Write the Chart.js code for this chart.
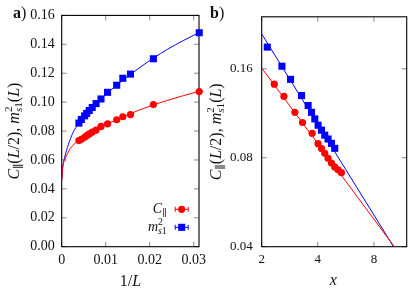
<!DOCTYPE html>
<html>
<head>
<meta charset="utf-8">
<script src="https://cdn.jsdelivr.net/npm/chart.js@4"></script>
<style>
  html, body { margin: 0; padding: 0; background: #fff; }
  #wrap { position: relative; width: 415px; height: 291px; }
  canvas { position: absolute; left: 0; top: 0; }
</style>
</head>
<body>
<div id="wrap">
  <canvas id="panelA" width="415" height="291"></canvas>
  <canvas id="panelB" width="415" height="291"></canvas>
</div>
<script>
// ---- panel a) : values against 1/L ----
const invL   = [0.03125, 0.02083, 0.01563, 0.01389, 0.0125, 0.01042, 0.00893, 0.00781, 0.00694, 0.00625, 0.00568, 0.00521, 0.00446, 0.00391];
const cParA  = [0.1073, 0.0983, 0.0914, 0.0899, 0.0878, 0.0850, 0.0832, 0.0807, 0.0793, 0.0780, 0.0768, 0.0757, 0.0743, 0.0734];
const ms1A   = [0.1480, 0.1300, 0.1194, 0.1165, 0.1117, 0.1068, 0.1022, 0.0990, 0.0963, 0.0942, 0.0922, 0.0905, 0.0880, 0.0855];
// fit curves
const fitXA    = [0.00005, 0.0002, 0.0007, 0.0015, 0.0025, 0.0039, 0.006, 0.009, 0.013, 0.018, 0.024, 0.0312];
const fitCParA = [0.047, 0.054, 0.060, 0.0655, 0.0700, 0.0734, 0.0780, 0.0830, 0.0885, 0.0950, 0.1012, 0.1075];
const fitMs1A  = [0.047, 0.054, 0.062, 0.0705, 0.0785, 0.0855, 0.0935, 0.1025, 0.1130, 0.1245, 0.1365, 0.1482];
const xTicksA  = [0, 0.01, 0.02, 0.03];
const xLabelsA = ['0', '0.01', '0.02', '0.03'];
const yTicksA  = [0, 0.02, 0.04, 0.06, 0.08, 0.10, 0.12, 0.14, 0.16];
const yLabelsA = ['0.00', '0.02', '0.04', '0.06', '0.08', '0.10', '0.12', '0.14', '0.16'];

// ---- panel b) : log-log against x ----
const xRedB  = [2.336, 2.632, 3.013, 3.313, 3.729, 4.01, 4.187, 4.359, 4.541, 4.735, 4.931, 5.136, 5.356];
const cParB  = [0.1420, 0.1290, 0.1140, 0.1053, 0.0968, 0.0893, 0.0860, 0.0828, 0.0797, 0.0768, 0.0745, 0.0728, 0.0712];
const xBlueB = [2.143, 2.568, 2.858, 3.273, 3.55, 3.70, 3.855, 4.015, 4.186, 4.36, 4.541, 4.735, 4.931];
const ms1B   = [0.1895, 0.1633, 0.1474, 0.1299, 0.1202, 0.1140, 0.1083, 0.1031, 0.0992, 0.0954, 0.0926, 0.0895, 0.0861];
const lineXRedB  = [2, 10.3];
const lineCParB  = [0.161, 0.04];
const lineXBlueB = [2, 10.2];
const lineMs1B   = [0.21, 0.04];
const xTicksB  = [2, 4, 8];
const xLabelsB = ['2', '4', '8'];
const yTicksB  = [0.04, 0.08, 0.16];
const yLabelsB = ['0.04', '0.08', '0.16'];

const RED = '#ff0000';
const BLUE = '#0000ff';
const SERIF = '"Liberation Serif", "DejaVu Serif", serif';

const pts = (xs, ys) => xs.map((x, i) => ({ x, y: ys[i] }));

// text runs (math-ish labels)
const yTitleRuns = [
  { t: 'C', it: 1 }, { t: '\u2225', sub: 1 }, { t: '(' }, { t: 'L', it: 1 }, { t: '/2), ' },
  { t: 'm', it: 1 }, { t: '2', sup: 1, keep: 1 }, { t: 's', it: 1, sub: 1 }, { t: '1', sub: 1 },
  { t: '(' }, { t: 'L', it: 1 }, { t: ')' }
];
const legCRuns = [{ t: 'C', it: 1 }, { t: '\u2225', sub: 1 }];
const legMRuns = [{ t: 'm', it: 1 }, { t: '2', sup: 1, keep: 1 }, { t: 's', it: 1, sub: 1 }, { t: '1', sub: 1 }];

function fontOf(r, size) {
    const s = (r.sub || r.sup) ? size * 0.7 : size;
    return (r.it ? 'italic ' : '') + (r.bold ? 'bold ' : '') + s + 'px ' + SERIF;
}
function runsWidth(ctx, runs, size) {
    let w = 0;
    runs.forEach(r => { ctx.font = fontOf(r, size); if (!r.keep) w += ctx.measureText(r.t).width; });
    return w;
}
function drawRuns(ctx, runs, size, x, y) {
    runs.forEach(r => {
        ctx.font = fontOf(r, size);
        const dy = r.sub ? size * 0.22 : r.sup ? -size * 0.42 : 0;
        ctx.fillText(r.t, x, y + dy);
        if (!r.keep) x += ctx.measureText(r.t).width;
    });
}

// frame with inward ticks on all four sides (gnuplot look)
const frame = {
    id: 'frame',
    beforeDatasetsDraw(chart) {
        const ctx = chart.ctx, a = chart.chartArea, sx = chart.scales.x, sy = chart.scales.y;
        ctx.save();
        ctx.strokeStyle = '#8a8a8a';
        ctx.lineWidth = 1;
        ctx.beginPath();
        sx.ticks.forEach(t => {
            const p = sx.getPixelForValue(t.value);
            ctx.moveTo(p, a.bottom); ctx.lineTo(p, a.bottom - 5);
            ctx.moveTo(p, a.top); ctx.lineTo(p, a.top + 5);
        });
        sy.ticks.forEach(t => {
            const p = sy.getPixelForValue(t.value);
            ctx.moveTo(a.left, p); ctx.lineTo(a.left + 5, p);
            ctx.moveTo(a.right, p); ctx.lineTo(a.right - 5, p);
        });
        ctx.stroke();
        ctx.strokeStyle = '#000';
        ctx.lineWidth = 1.1;
        ctx.strokeRect(a.left, a.top, a.right - a.left, a.bottom - a.top);
        ctx.restore();
    }
};

const decor = {
    id: 'decor',
    afterDraw(chart, args, o) {
        const ctx = chart.ctx, a = chart.chartArea;
        ctx.save();
        ctx.fillStyle = '#111';
        ctx.textBaseline = 'alphabetic';
        // panel letter
        ctx.font = 'bold 16px ' + SERIF;
        ctx.fillText(o.letter, o.letterX, o.letterY);
        const lw = ctx.measureText(o.letter).width;
        ctx.font = '16px ' + SERIF;
        ctx.fillText(')', o.letterX + lw, o.letterY);
        // y title, rotated
        const yw = runsWidth(ctx, yTitleRuns, 16);
        ctx.save();
        ctx.translate(o.yTitleX, (a.top + a.bottom) / 2);
        ctx.rotate(-Math.PI / 2);
        drawRuns(ctx, yTitleRuns, 16, -yw / 2, 0);
        ctx.restore();
        // x title
        const xw = runsWidth(ctx, o.xTitle, 16);
        drawRuns(ctx, o.xTitle, 16, o.xTitleX - xw / 2, o.xTitleY);
        // legend
        (o.legend || []).forEach(e => {
            const ds = chart.data.datasets[e.ds];
            const w = runsWidth(ctx, e.runs, 14);
            ctx.fillStyle = '#111';
            drawRuns(ctx, e.runs, 14, e.textRight - w, e.textY);
            ctx.strokeStyle = ds.backgroundColor;
            ctx.lineWidth = 1;
            ctx.beginPath();
            ctx.moveTo(e.symX - 6.5, e.symY); ctx.lineTo(e.symX + 6.5, e.symY);
            ctx.moveTo(e.symX - 6.5, e.symY - 2.5); ctx.lineTo(e.symX - 6.5, e.symY + 2.5);
            ctx.moveTo(e.symX + 6.5, e.symY - 2.5); ctx.lineTo(e.symX + 6.5, e.symY + 2.5);
            ctx.stroke();
            ctx.fillStyle = ds.backgroundColor;
            Chart.helpers.drawPoint(ctx, { pointStyle: ds.pointStyle, rotation: 0, radius: ds.pointRadius, borderWidth: 0 }, e.symX, e.symY);
        });
        ctx.restore();
    }
};

function axis(type, min, max, ticks, labels, size, pad, fit) {
    return {
        type, min, max,
        afterBuildTicks: s => { s.ticks = ticks.map(v => ({ value: v })); },
        afterFit: fit,
        ticks: {
            callback: (v, i) => labels[i],
            font: { family: SERIF, size },
            color: '#111',
            padding: pad,
            autoSkip: false,
            maxRotation: 0,
            minRotation: 0
        },
        grid: { display: false, drawTicks: false },
        border: { display: false }
    };
}

function pointSet(xs, ys, color, style, r) {
    return { data: pts(xs, ys), backgroundColor: color, borderColor: color, pointStyle: style,
             pointRadius: r, borderWidth: 0, clip: false };
}
function fitSet(xs, ys, color) {
    return { data: pts(xs, ys), showLine: true, borderColor: color, backgroundColor: color,
             borderWidth: 1, pointRadius: 0, cubicInterpolationMode: 'monotone' };
}

// panel a
new Chart(document.getElementById('panelA'), {
    type: 'scatter',
    data: {
        datasets: [
            pointSet(invL, cParA, RED, 'circle', 3.6),
            pointSet(invL, ms1A, BLUE, 'rect', 5),
            fitSet(fitXA, fitCParA, RED),
            fitSet(fitXA, fitMs1A, BLUE)
        ]
    },
    options: {
        responsive: false,
        animation: false,
        events: [],
        layout: { padding: { top: 14, right: 415 - 199, left: 0, bottom: 0 } },
        scales: {
            x: axis('linear', 0, 0.0312, xTicksA, xLabelsA, 14, 5, s => { s.height = 44.3; }),
            y: axis('linear', 0, 0.16, yTicksA, yLabelsA, 14, 7, s => { s.width = 61.7; })
        },
        plugins: {
            legend: { display: false },
            tooltip: { enabled: false },
            decor: {
                letter: 'a', letterX: 13, letterY: 18,
                yTitleX: 18.5,
                xTitle: [{ t: '1/' }, { t: 'L', it: 1 }], xTitleX: 130.5, xTitleY: 286,
                legend: [
                    { ds: 0, runs: legCRuns, textRight: 166.7, textY: 213, symX: 181.7, symY: 209.3 },
                    { ds: 1, runs: legMRuns, textRight: 166.7, textY: 231, symX: 181.7, symY: 227.3 }
                ]
            }
        }
    },
    plugins: [frame, decor]
});

// panel b
new Chart(document.getElementById('panelB'), {
    type: 'scatter',
    data: {
        datasets: [
            pointSet(xRedB, cParB, RED, 'circle', 3.6),
            pointSet(xBlueB, ms1B, BLUE, 'rect', 5),
            fitSet(lineXRedB, lineCParB, RED),
            fitSet(lineXBlueB, lineMs1B, BLUE)
        ]
    },
    options: {
        responsive: false,
        animation: false,
        events: [],
        layout: { padding: { top: 14, right: 415 - 406.7, left: 0, bottom: 0 } },
        scales: {
            x: axis('logarithmic', 2, 12, xTicksB, xLabelsB, 13, 5, s => { s.height = 44.3; }),
            y: axis('logarithmic', 0.04, 0.24, yTicksB, yLabelsB, 13, 9, s => { s.width = 261.7; })
        },
        plugins: {
            legend: { display: false },
            tooltip: { enabled: false },
            decor: {
                letter: 'b', letterX: 210, letterY: 17.5,
                yTitleX: 220.5,
                xTitle: [{ t: 'x', it: 1 }], xTitleX: 333.3, xTitleY: 285
            }
        }
    },
    plugins: [frame, decor]
});
</script>
</body>
</html>
